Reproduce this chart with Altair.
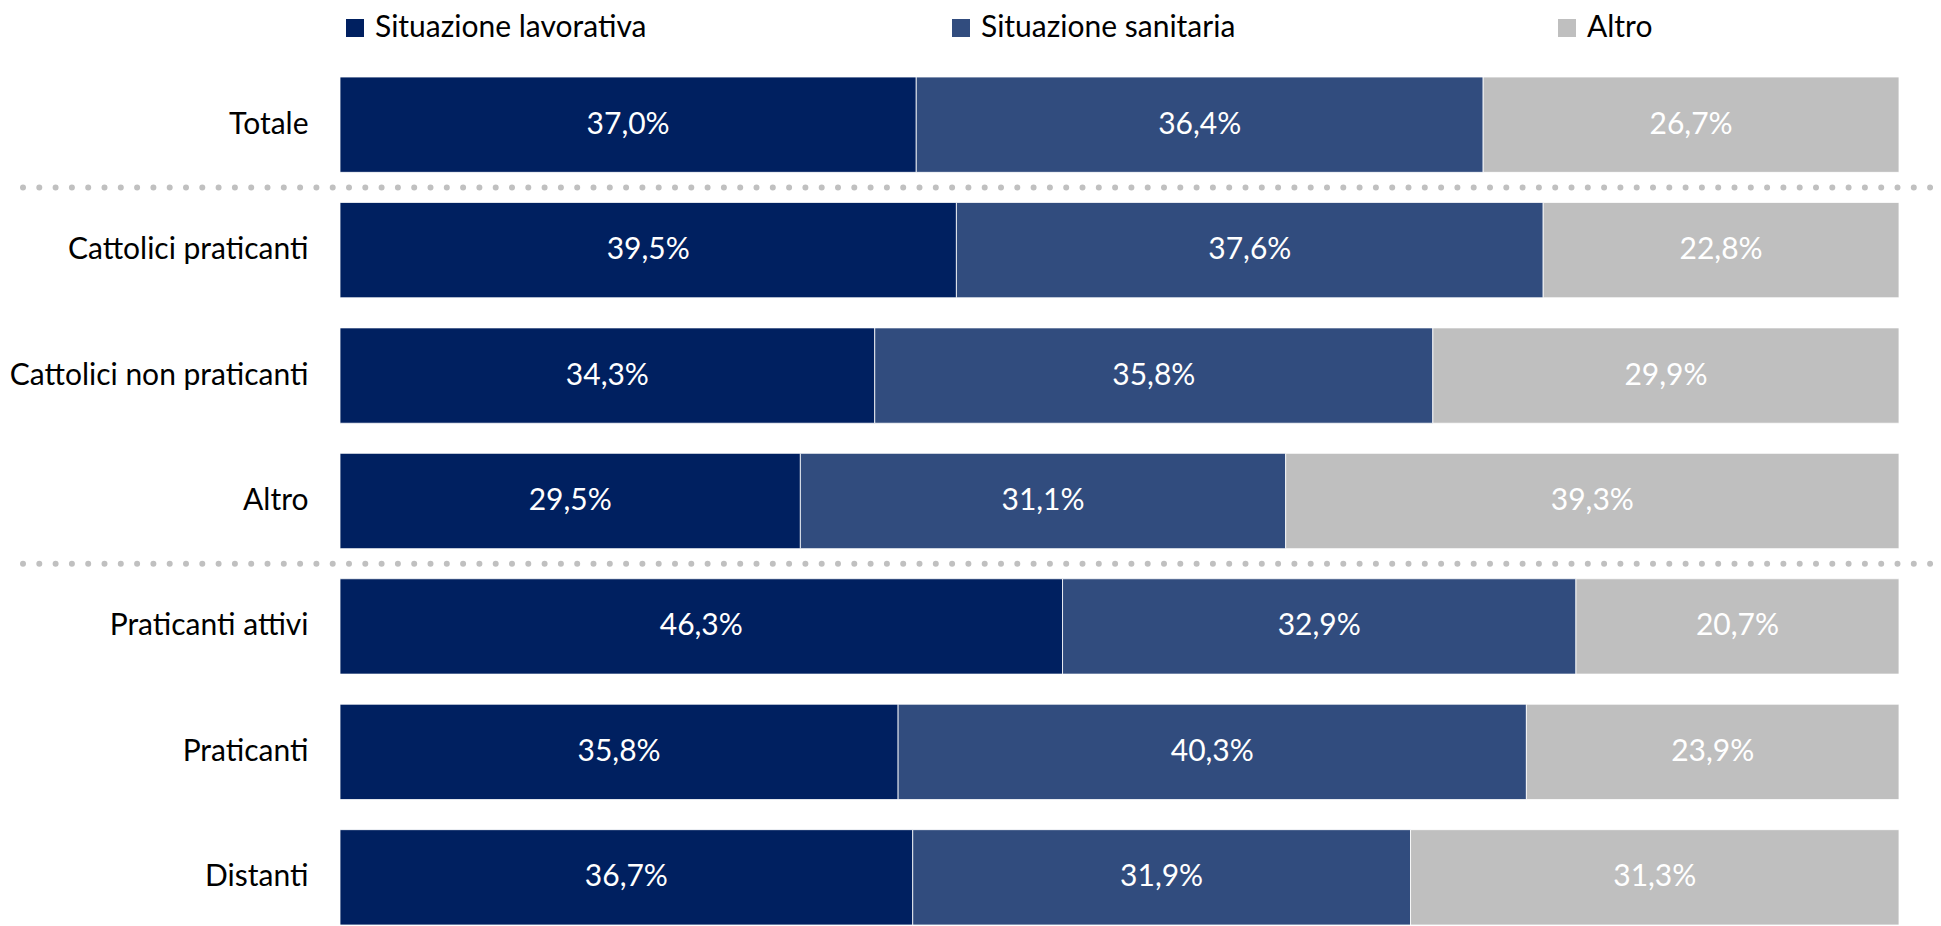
import altair as alt
import pandas as pd

categories = ["Totale", "Cattolici praticanti", "Cattolici non praticanti", "Altro",
              "Praticanti attivi", "Praticanti", "Distanti"]
series = ["Situazione lavorativa", "Situazione sanitaria", "Altro"]
lavorativa = [37.0, 39.5, 34.3, 29.5, 46.3, 35.8, 36.7]
sanitaria = [36.4, 37.6, 35.8, 31.1, 32.9, 40.3, 31.9]
altro = [26.7, 22.8, 29.9, 39.3, 20.7, 23.9, 31.3]
separators_after = ["Totale", "Altro"]
colors = ["#002060", "#314C7E", "#BFBFBF"]

rows = []
for s_i, (s, vals) in enumerate(zip(series, [lavorativa, sanitaria, altro])):
    for c, v in zip(categories, vals):
        rows.append({"cat": c, "serie": s, "ord": s_i, "value": v})
df = pd.DataFrame(rows)
sep_df = pd.DataFrame({"cat": separators_after})

FONT = "Lato"
FS = 30
W, H = 1559, 848
PI = 0.24
step = H / (len(categories) - PI)
half_gap = PI * step / 2

yscale = alt.Scale(domain=categories, paddingInner=PI, paddingOuter=0)

base = alt.Chart(df).transform_stack(
    stack="value", groupby=["cat"], as_=["x0", "x1"],
    sort=[alt.SortField("ord", order="ascending")], offset="normalize"
).transform_calculate(
    mid="(datum.x0 + datum.x1) / 2",
    lab="replace(format(datum.value, '.1f'), '.', ',') + '%'"
)

bars = base.mark_bar(stroke="white", strokeWidth=0.8).encode(
    y=alt.Y("cat:N", scale=yscale, sort=categories,
            axis=alt.Axis(title=None, domain=False, ticks=False, labelPadding=32,
                          labelFontSize=FS, labelFont=FONT, labelColor="black",
                          labelLimit=400)),
    x=alt.X("x0:Q", scale=alt.Scale(domain=[0, 1], nice=False), axis=None),
    x2="x1:Q",
    color=alt.Color("serie:N", scale=alt.Scale(domain=series, range=colors),
                    legend=alt.Legend(title=None, orient="none", legendX=0, legendY=-64,
                                      direction="horizontal", columns=3, gridAlign="all",
                                      columnPadding=299, symbolType="square",
                                      symbolSize=324, symbolStrokeWidth=0,
                                      labelFontSize=FS, labelFont=FONT, labelColor="black",
                                      labelLimit=500, symbolOffset=0, labelOffset=5,
                                      padding=0)),
    order=alt.Order("ord:Q"),
)

labels = base.mark_text(color="white", font=FONT, fontSize=FS, baseline="middle",
                        align="center").encode(
    y=alt.Y("cat:N", scale=yscale, sort=categories),
    x=alt.X("mid:Q"),
    text="lab:N",
)

seps = alt.Chart(sep_df).mark_rule(
    color="#C0C0C0", strokeWidth=6, strokeCap="round", strokeDash=[0, 16.3],
    yOffset=half_gap
).encode(
    y=alt.Y("cat:N", scale=yscale, sort=categories, bandPosition=1),
    x=alt.value(-317),
    x2=alt.value(W + 70),
)

chart = alt.layer(bars, labels, seps).properties(
    width=W, height=H,
    autosize=alt.AutoSizeParams(type="none"),
    padding={"left": 332, "top": 69, "right": 34, "bottom": 0},
).configure_view(stroke=None)

chart.save("out.html", embed_options={"renderer": "svg", "actions": False})
